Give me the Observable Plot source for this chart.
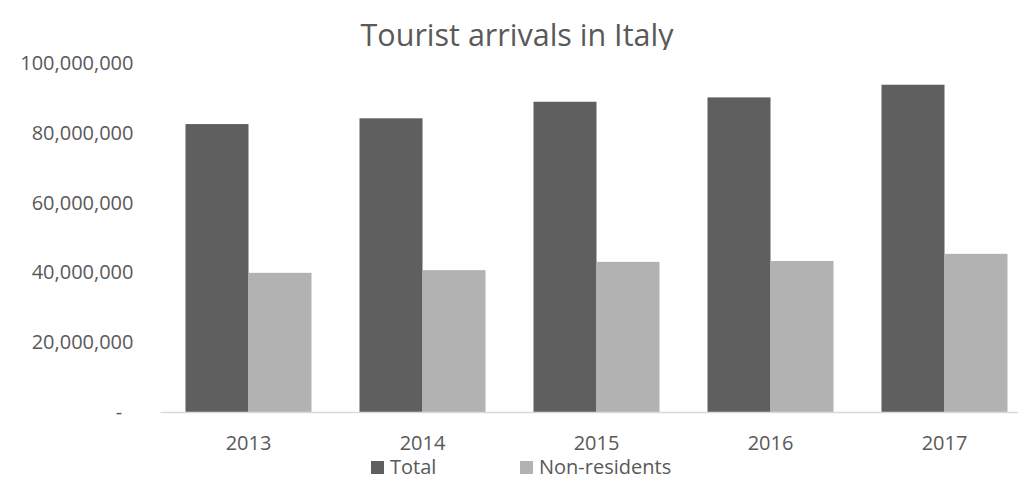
<!DOCTYPE html>
<html><head><meta charset="utf-8">
<script src="https://cdn.jsdelivr.net/npm/d3@7"></script>
<script src="https://cdn.jsdelivr.net/npm/@observablehq/plot@0.6"></script>
<style>
body{margin:0;background:#fff;font-family:"Open Sans",sans-serif;color:#595959;}
#wrap{position:relative;width:1018px;height:480px;overflow:hidden;background:#fff;}
#title{position:absolute;top:14px;left:8px;width:1018px;text-align:center;font-size:30.5px;line-height:40px;}
#chart{position:absolute;top:50px;left:0;width:1032px;}
#chart svg{max-width:none !important;}
#legend{position:absolute;top:456px;left:371px;display:flex;font-size:20px;line-height:22px;}
.item{display:flex;align-items:center;}
.sw{width:13px;height:13px;margin-right:6px;}
</style>
</head><body>
<div id="wrap">
  <div id="title">Tourist arrivals in Italy</div>
  <div id="chart"></div>
  <div id="legend"></div>
</div>
<script>
const years = ["2013", "2014", "2015", "2016", "2017"];
const series = ["Total", "Non-residents"];
const colors = ["#5f5f5f", "#b2b2b2"];
const totalValues = [82550000, 84200000, 88950000, 90200000, 93830000];
const nonResidentValues = [39900000, 40660000, 43040000, 43300000, 45340000];
const yTicks = [0, 20000000, 40000000, 60000000, 80000000, 100000000];

const data = [];
years.forEach((y, i) => {
  data.push({year: y, series: series[0], value: totalValues[i]});
  data.push({year: y, series: series[1], value: nonResidentValues[i]});
});

const fmt = d3.format(",");
const chart = Plot.plot({
  width: 1032,
  height: 407,
  marginLeft: 160.5,
  marginRight: 0,
  marginTop: 13.2,
  marginBottom: 45,
  style: {fontSize: "20px", fontFamily: "'Open Sans', sans-serif", color: "#595959", background: "#fff", maxWidth: "none"},
  fx: {domain: years, paddingInner: 0.2735, paddingOuter: 0.1365, label: null, tickSize: 0, tickPadding: 23},
  x: {domain: series, padding: 0, axis: null},
  y: {domain: [0, 100000000], axis: null},
  color: {domain: series, range: colors},
  marks: [
    Plot.axisY({ticks: yTicks, tickFormat: d => d === 0 ? "-\u2007" : fmt(d), tickSize: 0, tickPadding: 52, label: null, fontSize: 20}),
    Plot.barY(data, {fx: "year", x: "series", y: "value", fill: "series"})
  ]
});
const y0 = chart.scale("y").apply(0);
d3.select(chart).append("line")
  .attr("x1", 160.5).attr("x2", 1032)
  .attr("y1", y0 + 0.5).attr("y2", y0 + 0.5)
  .attr("stroke", "#d9d9d9").attr("stroke-width", 1.5);
document.getElementById("chart").appendChild(chart);

const legend = d3.select("#legend");
const widths = [149, null];
series.forEach((s, i) => {
  const it = legend.append("div").attr("class", "item");
  if (widths[i]) it.style("width", widths[i] + "px");
  it.append("div").attr("class", "sw").style("background", colors[i]);
  it.append("span").text(s);
});
</script>
</body></html>
